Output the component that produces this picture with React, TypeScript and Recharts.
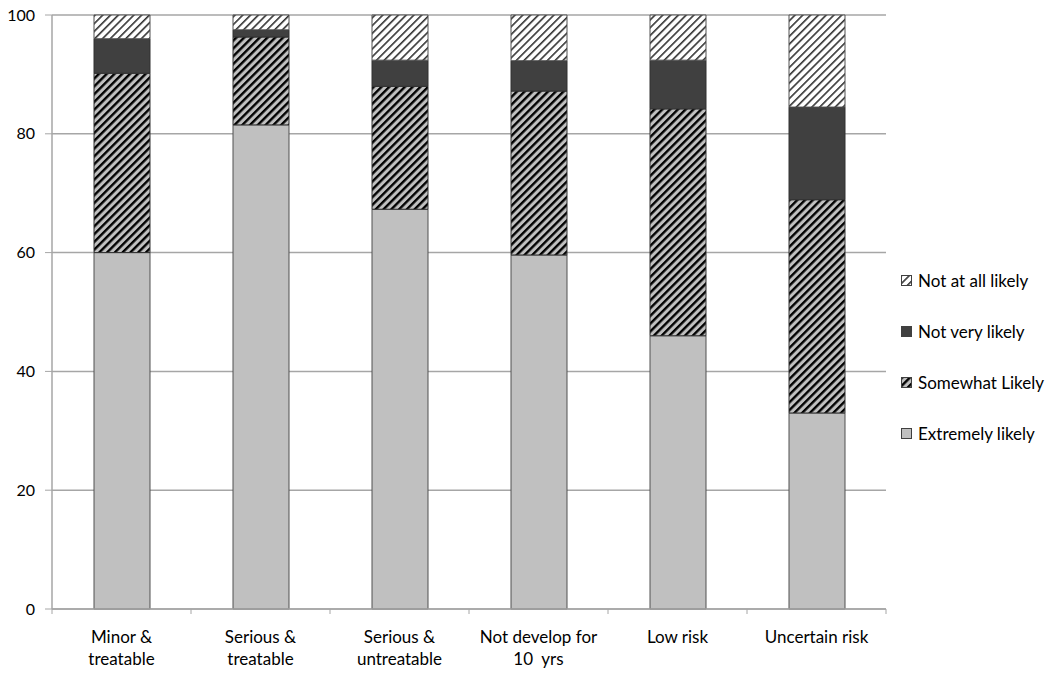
import React from "react";
import { BarChart, Bar, XAxis, YAxis, CartesianGrid, Legend } from "recharts";

const categories = [
  "Minor & treatable",
  "Serious & treatable",
  "Serious & untreatable",
  "Not develop for 10 yrs",
  "Low risk",
  "Uncertain risk",
];
const categoryLines = [
  ["Minor &", "treatable"],
  ["Serious &", "treatable"],
  ["Serious &", "untreatable"],
  ["Not develop for", "10  yrs"],
  ["Low risk"],
  ["Uncertain risk"],
];
const extremelyLikely = [60.0, 81.5, 67.3, 59.6, 46.0, 33.0];
const somewhatLikely = [30.2, 14.8, 20.7, 27.6, 38.2, 35.9];
const notVeryLikely = [5.8, 1.2, 4.4, 5.1, 8.2, 15.6];
const notAtAllLikely = [4.0, 2.5, 7.6, 7.7, 7.6, 15.5];
const yTicks = [0, 20, 40, 60, 80, 100];
const legendOrder = ["notAtAll", "notVery", "somewhat", "extremely"];

const data = categories.map((c, i) => ({
  name: c,
  extremely: extremelyLikely[i],
  somewhat: somewhatLikely[i],
  notVery: notVeryLikely[i],
  notAtAll: notAtAllLikely[i],
}));

const FONT = "Lato, 'Open Sans', sans-serif";

const CategoryTick = (props: any) => {
  const { x, y, index, width, visibleTicksCount } = props;
  const lines = categoryLines[index] || [];
  const band = width / (visibleTicksCount || categories.length);
  const isLast = index === categories.length - 1;
  return (
    <g>
      <line x1={x - band / 2} x2={x - band / 2} y1={y} y2={y + 5} stroke="#a6a6a6" />
      {isLast && (
        <line x1={x + band / 2} x2={x + band / 2} y1={y} y2={y + 5} stroke="#a6a6a6" />
      )}
      {lines.map((l: string, k: number) => (
        <text
          key={k}
          x={x}
          y={y + 34 + k * 22}
          textAnchor="middle"
          fontSize={17}
          fontFamily={FONT}
          fill="#000"
          style={{ whiteSpace: "pre" }}
        >
          {l}
        </text>
      ))}
    </g>
  );
};

const swatchFill: Record<string, string> = {
  notAtAll: "url(#hatchLight)",
  notVery: "#404040",
  somewhat: "url(#hatchDark)",
  extremely: "#c0c0c0",
};

const LegendContent = (props: any) => {
  const payload = (props.payload || [])
    .slice()
    .sort(
      (a: any, b: any) =>
        legendOrder.indexOf(a.dataKey) - legendOrder.indexOf(b.dataKey)
    );
  return (
    <div style={{ fontFamily: FONT, fontSize: 17, color: "#000" }}>
      {payload.map((p: any, i: number) => (
        <div
          key={i}
          style={{ display: "flex", alignItems: "center", height: 51 }}
        >
          <svg width={12} height={12} style={{ marginRight: 5 }}>
            <rect
              x={0.5}
              y={0.5}
              width={10}
              height={10}
              fill={swatchFill[p.dataKey] || p.color}
              stroke="#404040"
            />
          </svg>
          <span>{p.value}</span>
        </div>
      ))}
    </div>
  );
};

export default function App() {
  return (
    <div style={{ position: "absolute", left: 0, top: 0, background: "#fff" }}>
      <BarChart
        width={1050}
        height={677}
        data={data}
        margin={{ top: 15, right: 15, left: 0, bottom: 0 }}
        barCategoryGap={0}
      >
        <defs>
          <pattern
            id="hatchDark"
            patternUnits="userSpaceOnUse"
            width={5.5}
            height={5.5}
            patternTransform="rotate(45)"
          >
            <rect x={0} y={0} width={5.5} height={5.5} fill="#c0c0c0" />
            <rect x={0} y={0} width={2.4} height={5.5} fill="#000" />
          </pattern>
          <pattern
            id="hatchLight"
            patternUnits="userSpaceOnUse"
            width={5.5}
            height={5.5}
            patternTransform="rotate(45)"
          >
            <rect x={0} y={0} width={5.5} height={5.5} fill="#fff" />
            <rect x={0} y={0} width={1.6} height={5.5} fill="#333" />
          </pattern>
        </defs>
        <CartesianGrid vertical={false} stroke="#a6a6a6" strokeWidth={1.5} />
        <XAxis
          dataKey="name"
          height={68}
          axisLine={{ stroke: "#a6a6a6", strokeWidth: 1.5 }}
          tickLine={false}
          tickSize={0}
          tickMargin={0}
          interval={0}
          tick={<CategoryTick />}
        />
        <YAxis
          width={52}
          domain={[0, 100]}
          ticks={yTicks}
          axisLine={{ stroke: "#a6a6a6", strokeWidth: 1.5 }}
          tickLine={{ stroke: "#a6a6a6" }}
          tickSize={7}
          tickMargin={10}
          tick={{ fontSize: 16, fontFamily: FONT, fill: "#000" }}
        />
        <Legend
          layout="vertical"
          align="right"
          verticalAlign="top"
          wrapperStyle={{ left: 901, top: 255, width: 149 }}
          content={<LegendContent />}
        />
        <Bar
          dataKey="extremely"
          name="Extremely likely"
          stackId="a"
          fill="#c0c0c0"
          stroke="#505050"
          strokeWidth={1}
          barSize={56}
          isAnimationActive={false}
        />
        <Bar
          dataKey="somewhat"
          name="Somewhat Likely"
          stackId="a"
          fill="url(#hatchDark)"
          stroke="#303030"
          strokeWidth={1}
          barSize={56}
          isAnimationActive={false}
        />
        <Bar
          dataKey="notVery"
          name="Not very likely"
          stackId="a"
          fill="#404040"
          stroke="#303030"
          strokeWidth={1}
          barSize={56}
          isAnimationActive={false}
        />
        <Bar
          dataKey="notAtAll"
          name="Not at all likely"
          stackId="a"
          fill="url(#hatchLight)"
          stroke="#505050"
          strokeWidth={1}
          barSize={56}
          isAnimationActive={false}
        />
      </BarChart>
    </div>
  );
}
